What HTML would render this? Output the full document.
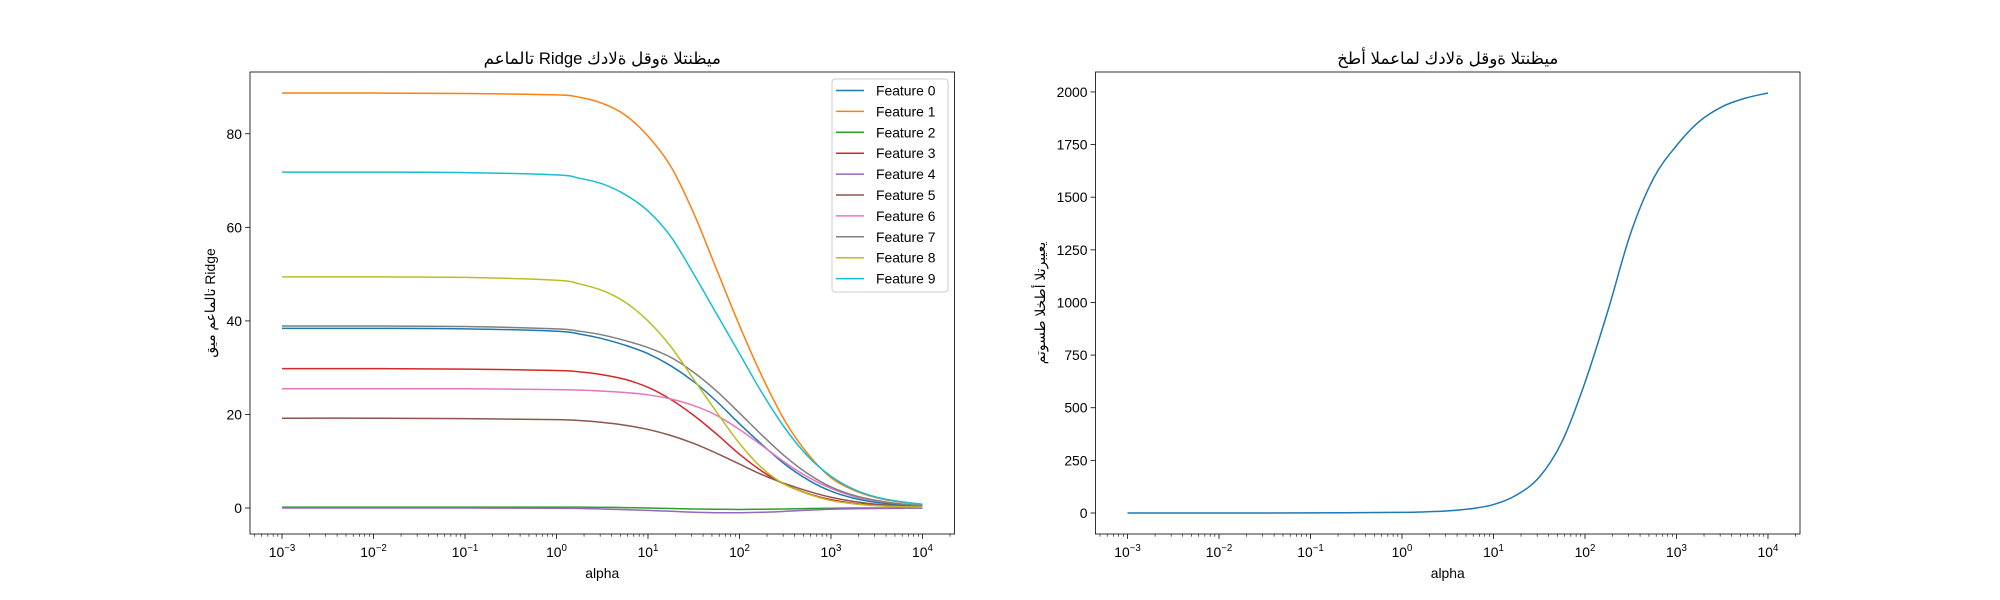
<!DOCTYPE html>
<html><head><meta charset="utf-8">
<style>
html,body{margin:0;padding:0;background:#fff;}
svg{display:block;font-family:"Liberation Sans","DejaVu Sans",sans-serif;}
.ar{unicode-bidi:bidi-override;direction:ltr;}
</style></head>
<body>
<svg id="fig" width="2000" height="600" viewBox="0 0 2000 600" xmlns="http://www.w3.org/2000/svg"></svg>
<script>
// ---- data ----
const logAlpha = [-3,-2,-1,0,0.25,0.5,0.75,1,1.25,1.5,1.75,2,2.25,2.5,2.75,3,3.25,3.5,3.75,4];
const featureNames = ["Feature 0","Feature 1","Feature 2","Feature 3","Feature 4","Feature 5","Feature 6","Feature 7","Feature 8","Feature 9"];
const f0 = [38.4,38.4,38.3,37.8,37.2,36.2,34.8,33,30.4,27,22.8,18,13.5,9.3,6,3.6,2.1,1.2,0.7,0.4];
const f1 = [88.7,88.7,88.6,88.3,87.8,86.5,84,79.5,73,63,51,39,28,18.5,11.5,6.5,3.8,2.2,1.3,0.8];
const f2 = [0.2,0.2,0.2,0.2,0.2,0.15,0.1,0,-0.1,-0.2,-0.25,-0.3,-0.25,-0.2,-0.1,-0.05,0,0,0,0];
const f3 = [29.8,29.8,29.7,29.4,29.1,28.5,27.5,25.8,23.2,19.8,15.8,11.5,7.8,5,3.1,1.8,1,0.6,0.3,0.2];
const f4 = [0,0,0,-0.05,-0.1,-0.2,-0.35,-0.5,-0.7,-0.9,-1,-1,-0.9,-0.7,-0.45,-0.25,-0.15,-0.1,-0.05,0];
const f5 = [19.2,19.2,19.1,18.9,18.7,18.3,17.7,16.8,15.5,13.8,11.7,9.4,7.1,5.2,3.6,2.3,1.4,0.8,0.5,0.3];
const f6 = [25.5,25.5,25.5,25.3,25.2,25,24.7,24.2,23.3,21.9,19.8,16.8,13.3,9.7,6.6,4.2,2.5,1.5,0.9,0.5];
const f7 = [38.9,38.9,38.8,38.3,37.8,37,35.8,34.3,32.2,29,25,20.3,15.5,11,7.3,4.5,2.7,1.6,0.9,0.5];
const f8 = [49.4,49.4,49.3,48.7,47.9,46.5,44,40,34.5,27.5,20.5,13.8,8.5,5,3,1.6,0.9,0.5,0.3,0.2];
const f9 = [71.8,71.8,71.7,71.2,70.5,69.3,67,63.5,58,50,41.5,33,24.5,17,11,6.8,4,2.3,1.4,0.8];
const mse = [0,0,0.5,3,5.5,10,20,40,85,170,340,620,960,1330,1590,1745,1860,1930,1970,1995];
const leftYTicks = [0,20,40,60,80];
const rightYTicks = [0,250,500,750,1000,1250,1500,1750,2000];
const xDecades = [-3,-2,-1,0,1,2,3,4];

const colors = ["#1f77b4","#ff7f0e","#2ca02c","#d62728","#9467bd","#8c564b","#e377c2","#7f7f7f","#bcbd22","#17becf"];
const series = [f0,f1,f2,f3,f4,f5,f6,f7,f8,f9];
const NS = "http://www.w3.org/2000/svg";
const fig = document.getElementById('fig');
function mk(tag, attrs, parent, text){
  const e = document.createElementNS(NS, tag);
  for (const k in attrs) e.setAttribute(k, attrs[k]);
  if (text !== undefined) e.textContent = text;
  (parent||fig).appendChild(e);
  return e;
}
const TOP=72, BOT=534, W=704.5;
const xminL=-3.35, xmaxL=4.35;
function makeAxes(x0, ymin, ymax){
  return {
    x: lk => x0 + (lk - xminL)/(xmaxL-xminL)*W,
    y: v => BOT - (v - ymin)/(ymax-ymin)*(BOT-TOP),
    x0: x0
  };
}
function pathFrom(ax, xs, ys){
  const p = xs.map((k,i)=>[ax.x(k), ax.y(ys[i])]);
  let d = "M"+p[0][0].toFixed(2)+","+p[0][1].toFixed(2);
  for (let i=0;i<p.length-1;i++){
    const p0=p[Math.max(0,i-1)], p1=p[i], p2=p[i+1], p3=p[Math.min(p.length-1,i+2)];
    const c1x=p1[0]+(p2[0]-p0[0])/6, c1y=p1[1]+(p2[1]-p0[1])/6;
    const c2x=p2[0]-(p3[0]-p1[0])/6, c2y=p2[1]-(p3[1]-p1[1])/6;
    d += " C"+c1x.toFixed(2)+","+c1y.toFixed(2)+" "+c2x.toFixed(2)+","+c2y.toFixed(2)+" "+p2[0].toFixed(2)+","+p2[1].toFixed(2);
  }
  return d;
}
function drawAxisFrame(ax, g, yTicks, namePrefix){
  // x ticks
  for (let d=-4; d<=4; d++){
    for (let m=2;m<=9;m++){
      const lk = d + Math.log10(m);
      if (lk < xminL || lk > xmaxL) continue;
      const t = mk('line',{x1:ax.x(lk),x2:ax.x(lk),y1:BOT,y2:BOT+2.8,stroke:'#000','stroke-width':0.6},g);
      
      
    }
  }
  xDecades.forEach(d=>{
    const X = ax.x(d);
    const t = mk('line',{x1:X,x2:X,y1:BOT,y2:BOT+4.9,stroke:'#000','stroke-width':0.8},g);
    
    
    const tx = mk('text',{x:X,y:BOT+23,'font-size':13.9,'text-anchor':'middle'},g);
    
    
    const a = mk('tspan',{},tx,'10');
    const b = mk('tspan',{dy:-6,'font-size':9.7},tx,String(d).replace('-','\u2212'));
  });
  yTicks.forEach(v=>{
    const Y = ax.y(v);
    const t = mk('line',{x1:ax.x0-4.9,x2:ax.x0,y1:Y,y2:Y,stroke:'#000','stroke-width':0.8},g);
    
    
    const tx = mk('text',{x:ax.x0-8,y:Y+5,'font-size':13.9,'text-anchor':'end'},g,String(v));
    
    
  });
  const fr = mk('rect',{x:ax.x0,y:TOP,width:W,height:BOT-TOP,fill:'none',stroke:'#000','stroke-width':0.8},g);
  
  
}

// ---- left chart ----
const L = makeAxes(250, -5.55, 93.2);
const gL = mk('g',{});


const clipL = mk('clipPath',{id:'clipL'},gL);
mk('rect',{x:250,y:TOP,width:W,height:BOT-TOP},clipL);
const linesL = mk('g',{'clip-path':'url(#clipL)'},gL);
series.forEach((s,i)=>{
  const p = mk('path',{d:pathFrom(L,logAlpha,s),fill:'none',stroke:colors[i],'stroke-width':1.5},linesL);
  
  
});
drawAxisFrame(L, gL, leftYTicks, 'left');
const tL = mk('text',{x:250+W/2,y:64,'font-size':16.7,'text-anchor':'middle',class:'ar'},gL,'معاملات Ridge كدالة لقوة التنظيم');


const xlL = mk('text',{x:250+W/2,y:578,'font-size':13.9,'text-anchor':'middle'},gL,'alpha');


const ylL = mk('text',{x:0,y:0,'font-size':13.9,'text-anchor':'middle',transform:'translate(215,303) rotate(-90)',class:'ar'},gL,'قيم معاملات Ridge');



// legend
const lg = mk('g',{},gL);


const lbox = mk('rect',{x:832,y:79,width:116,height:213,rx:3,fill:'#fff','fill-opacity':0.8,stroke:'#ccc','stroke-width':1},lg);


featureNames.forEach((n,i)=>{
  const yy = 90.5 + i*20.9;
  const ln = mk('line',{x1:836,x2:864,y1:yy,y2:yy,stroke:colors[i],'stroke-width':1.5},lg);
  
  
  const tx = mk('text',{x:876,y:yy+5,'font-size':13.9},lg,n);
  
  
});

// ---- right chart ----
const R = makeAxes(1095.5, -99.75, 2094.75);
const gR = mk('g',{});


const pr = mk('path',{d:pathFrom(R,logAlpha,mse),fill:'none',stroke:colors[0],'stroke-width':1.5},gR);


drawAxisFrame(R, gR, rightYTicks, 'right');
const tR = mk('text',{x:1095.5+W/2,y:64,'font-size':16.7,'text-anchor':'middle',class:'ar'},gR,'خطأ المعامل كدالة لقوة التنظيم');


const xlR = mk('text',{x:1095.5+W/2,y:578,'font-size':13.9,'text-anchor':'middle'},gR,'alpha');


const ylR = mk('text',{x:0,y:0,'font-size':13.9,'text-anchor':'middle',transform:'translate(1045,303) rotate(-90)',class:'ar'},gR,'متوسط الخطأ التربيعي');


</script>
</body></html>
